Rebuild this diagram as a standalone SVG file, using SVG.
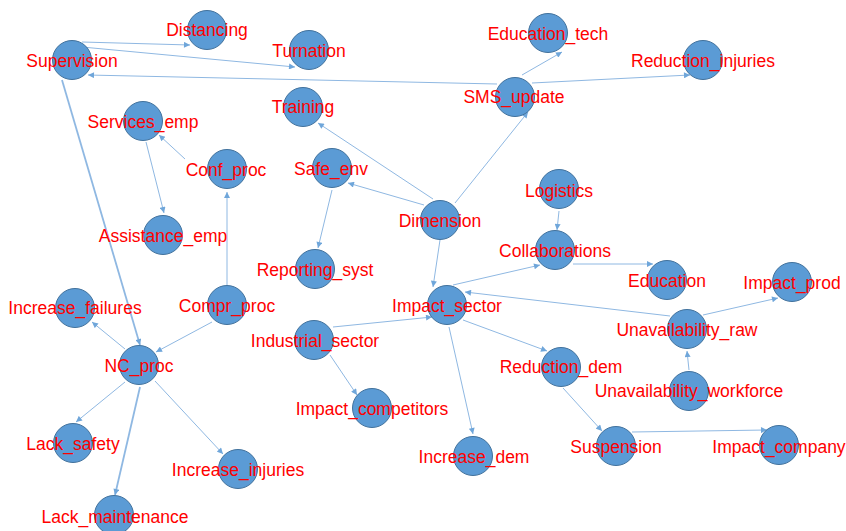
<svg xmlns="http://www.w3.org/2000/svg" width="846" height="531" viewBox="0 0 846 531">
<style>
.e{stroke:#8FB8E2;stroke-width:1;fill:none;marker-end:url(#ah)}
.t{stroke-width:1.8}
.n circle{fill:#5B9BD5;stroke:#41719C;stroke-width:1}
.n text{font-family:"Liberation Sans",Arial,sans-serif;font-size:17.5px;fill:#FF0000;text-anchor:middle}
</style>
<defs>
<marker id="ah" viewBox="0 0 10 10" refX="10" refY="5" markerWidth="7" markerHeight="6" markerUnits="userSpaceOnUse" orient="auto">
<path d="M0,0 L10,5 L0,10 z" fill="#6FA6DA"/>
</marker>
</defs>
<rect width="846" height="531" fill="#FFFFFF"/>
<g id="connectors">
<line class="e" x1="82" y1="42" x2="190" y2="45"/>
<line class="e" x1="82" y1="47" x2="295" y2="67"/>
<line class="e" x1="497" y1="84" x2="88" y2="75"/>
<line class="e" x1="522" y1="75" x2="562" y2="52"/>
<line class="e" x1="532" y1="83" x2="690" y2="75"/>
<line class="e" x1="455" y1="203" x2="528" y2="112"/>
<line class="e" x1="433" y1="199" x2="318" y2="123"/>
<line class="e" x1="424" y1="205" x2="348" y2="183"/>
<line class="e" x1="440" y1="240" x2="433" y2="287"/>
<line class="e t" x1="62" y1="80" x2="140" y2="345"/>
<line class="e" x1="146" y1="142" x2="164" y2="213"/>
<line class="e" x1="185" y1="159" x2="159" y2="135"/>
<line class="e" x1="227" y1="285" x2="227" y2="192"/>
<line class="e" x1="212" y1="322" x2="156" y2="352"/>
<line class="e" x1="125" y1="349" x2="92" y2="322"/>
<line class="e" x1="125" y1="382" x2="76" y2="422"/>
<line class="e t" x1="140" y1="387" x2="115" y2="495"/>
<line class="e" x1="155" y1="381" x2="223" y2="454"/>
<line class="e" x1="332" y1="190" x2="318" y2="248"/>
<line class="e" x1="333" y1="327" x2="432" y2="317"/>
<line class="e" x1="330" y1="355" x2="357" y2="395"/>
<line class="e" x1="453" y1="285" x2="540" y2="265"/>
<line class="e" x1="573" y1="264" x2="653" y2="264"/>
<line class="e" x1="559" y1="211" x2="557" y2="230"/>
<line class="e" x1="670" y1="316" x2="465" y2="292"/>
<line class="e" x1="703" y1="315" x2="778" y2="298"/>
<line class="e" x1="689" y1="370" x2="687" y2="351"/>
<line class="e" x1="463" y1="320" x2="547" y2="351"/>
<line class="e" x1="449" y1="327" x2="473" y2="434"/>
<line class="e" x1="563" y1="388" x2="602" y2="431"/>
<line class="e" x1="632" y1="432" x2="767" y2="430"/>
</g>
<g id="Supervision" class="n"><circle cx="72" cy="60" r="19.5"/><text x="72" y="67">Supervision</text></g>
<g id="Distancing" class="n"><circle cx="207" cy="30" r="19.5"/><text x="207" y="36">Distancing</text></g>
<g id="Turnation" class="n"><circle cx="309" cy="50" r="19.5"/><text x="309" y="57">Turnation</text></g>
<g id="Training" class="n"><circle cx="303" cy="107" r="19.5"/><text x="303" y="113">Training</text></g>
<g id="Services_emp" class="n"><circle cx="143" cy="121" r="19.5"/><text x="143" y="128">Services_emp</text></g>
<g id="Conf_proc" class="n"><circle cx="227" cy="169" r="19.5"/><text x="226" y="176">Conf_proc</text></g>
<g id="Safe_env" class="n"><circle cx="332" cy="168" r="19.5"/><text x="331" y="175">Safe_env</text></g>
<g id="Assistance_emp" class="n"><circle cx="163" cy="235" r="19.5"/><text x="163" y="242">Assistance_emp</text></g>
<g id="Reporting_syst" class="n"><circle cx="315" cy="269" r="19.5"/><text x="315" y="276">Reporting_syst</text></g>
<g id="Education_tech" class="n"><circle cx="548" cy="33" r="19.5"/><text x="548" y="40">Education_tech</text></g>
<g id="Reduction_injuries" class="n"><circle cx="703" cy="60" r="19.5"/><text x="703" y="67">Reduction_injuries</text></g>
<g id="SMS_update" class="n"><circle cx="515" cy="97" r="19.5"/><text x="514" y="103">SMS_update</text></g>
<g id="Logistics" class="n"><circle cx="559" cy="189" r="19.5"/><text x="559" y="197">Logistics</text></g>
<g id="Dimension" class="n"><circle cx="440" cy="220" r="19.5"/><text x="440" y="227">Dimension</text></g>
<g id="Collaborations" class="n"><circle cx="555" cy="250" r="19.5"/><text x="555" y="257">Collaborations</text></g>
<g id="Increase_failures" class="n"><circle cx="75" cy="308" r="19.5"/><text x="75" y="314">Increase_failures</text></g>
<g id="Compr_proc" class="n"><circle cx="227" cy="305" r="19.5"/><text x="227" y="312">Compr_proc</text></g>
<g id="NC_proc" class="n"><circle cx="139" cy="365" r="19.5"/><text x="139" y="372">NC_proc</text></g>
<g id="Industrial_sector" class="n"><circle cx="314" cy="340" r="19.5"/><text x="315" y="347">Industrial_sector</text></g>
<g id="Impact_competitors" class="n"><circle cx="372" cy="408" r="19.5"/><text x="372" y="415">Impact_competitors</text></g>
<g id="Lack_safety" class="n"><circle cx="73" cy="443" r="19.5"/><text x="73" y="450">Lack_safety</text></g>
<g id="Increase_injuries" class="n"><circle cx="238" cy="469" r="19.5"/><text x="238" y="476">Increase_injuries</text></g>
<g id="Lack_maintenance" class="n"><circle cx="114" cy="515" r="19.5"/><text x="115" y="523">Lack_maintenance</text></g>
<g id="Impact_sector" class="n"><circle cx="447" cy="305" r="19.5"/><text x="447" y="312">Impact_sector</text></g>
<g id="Education" class="n"><circle cx="667" cy="280" r="19.5"/><text x="667" y="287">Education</text></g>
<g id="Impact_prod" class="n"><circle cx="792" cy="282" r="19.5"/><text x="792" y="289">Impact_prod</text></g>
<g id="Unavailability_raw" class="n"><circle cx="687" cy="329" r="19.5"/><text x="687" y="336">Unavailability_raw</text></g>
<g id="Reduction_dem" class="n"><circle cx="561" cy="367" r="19.5"/><text x="561" y="373">Reduction_dem</text></g>
<g id="Unavailability_workforce" class="n"><circle cx="689" cy="391" r="19.5"/><text x="689" y="397">Unavailability_workforce</text></g>
<g id="Increase_dem" class="n"><circle cx="473" cy="456" r="19.5"/><text x="474" y="463">Increase_dem</text></g>
<g id="Suspension" class="n"><circle cx="616" cy="446" r="19.5"/><text x="616" y="453">Suspension</text></g>
<g id="Impact_company" class="n"><circle cx="779" cy="445" r="19.5"/><text x="779" y="453">Impact_company</text></g>
</svg>
